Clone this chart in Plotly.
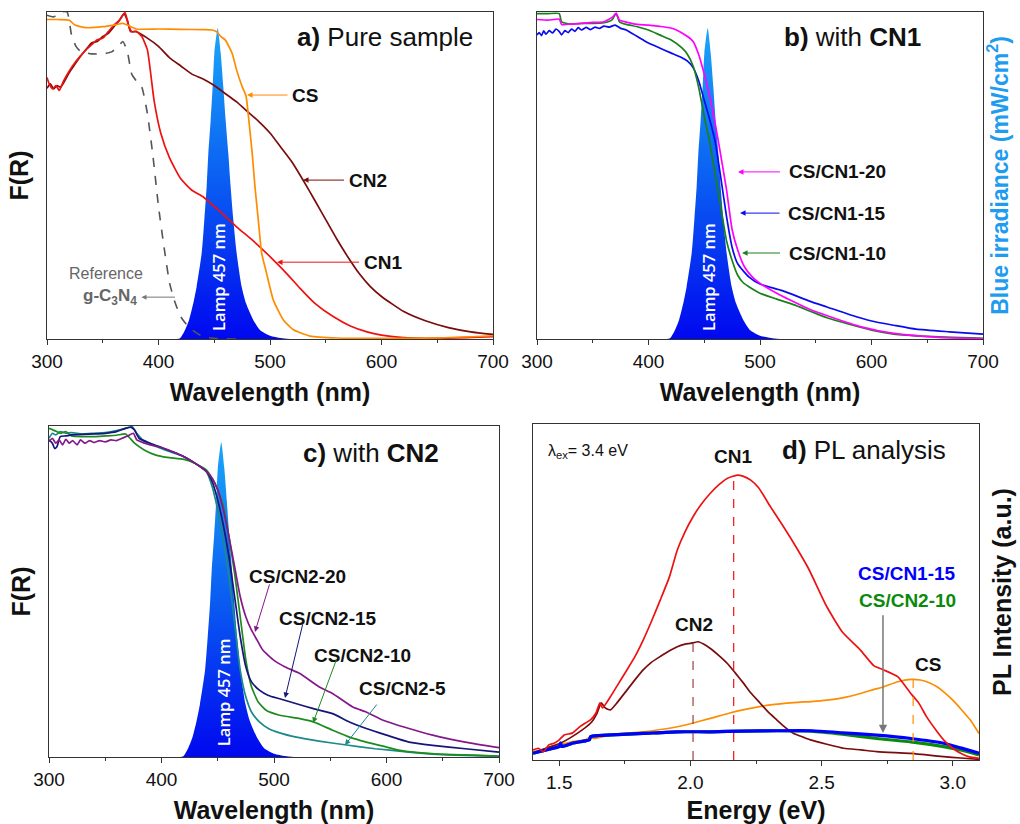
import plotly.graph_objects as go

# ------------------------------------------------------------------ data
lamp_wl = [416, 419.3, 423.8, 427.4, 431.2, 434.2, 438.7, 441.1, 443.2, 444.7, 446.8, 448.6, 450.1, 453.1,
           455.8, 458.1, 460.2, 462.6, 464.7, 467.1, 470.1, 474.6, 478.5, 485.0, 491.0, 500, 510, 518]
lamp_val = [0.0, 0.002, 0.0275, 0.058, 0.109, 0.16, 0.262, 0.364, 0.466, 0.568, 0.67, 0.772, 0.874, 0.95,
            0.874, 0.772, 0.67, 0.568, 0.466, 0.364, 0.262, 0.16, 0.109, 0.058, 0.0275, 0.01, 0.003, 0.0]

# a) pure samples
a_cs_wl = [300, 310, 320, 325, 335, 350, 360, 368, 372, 380, 400, 420, 440, 448, 452, 456, 460, 466, 470, 475,
           478.5, 481, 484, 486.5, 489.5, 492.5, 497, 503, 512, 521, 536, 560, 600, 650, 700]
a_cs = [0.977, 0.977, 0.975, 0.96, 0.952, 0.955, 0.96, 0.965, 0.96, 0.948, 0.948, 0.947, 0.946, 0.945, 0.94, 0.925,
        0.914, 0.874, 0.823, 0.772, 0.743, 0.67, 0.569, 0.466, 0.364, 0.263, 0.2, 0.119, 0.058, 0.028, 0.009,
        0.003, 0.002, 0.003, 0.01]
a_cn2_wl = [300, 303, 306, 309, 312, 316, 320, 325, 330, 335, 340, 345, 350, 355, 360, 365, 369, 372, 375, 380,
            390, 400, 410, 420, 430, 440, 450, 460, 470, 480, 490, 500, 510, 520, 530, 540, 550, 560, 570, 580,
            590, 600, 620, 640, 660, 680, 700]
a_cn2 = [0.767, 0.78, 0.765, 0.775, 0.77, 0.79, 0.815, 0.84, 0.865, 0.885, 0.905, 0.91, 0.925, 0.935, 0.955,
         0.975, 0.995, 0.975, 0.94, 0.94, 0.92, 0.895, 0.86, 0.835, 0.81, 0.795, 0.775, 0.75, 0.725, 0.695,
         0.665, 0.63, 0.585, 0.54, 0.484, 0.425, 0.365, 0.305, 0.25, 0.2, 0.16, 0.13, 0.084, 0.055, 0.035,
         0.022, 0.014]
a_cn1_wl = [300, 302, 305, 308, 311, 315, 320, 325, 330, 335, 340, 345, 350, 355, 360, 365, 370, 373, 376, 380,
            385, 390, 396, 402, 410, 420, 430, 440, 455, 470, 485, 500, 515, 527, 540, 557, 572, 587, 600, 617,
            650, 700]
a_cn1 = [0.80, 0.78, 0.765, 0.775, 0.76, 0.79, 0.82, 0.845, 0.865, 0.885, 0.9, 0.915, 0.92, 0.94, 0.96, 0.975,
         0.998, 0.96, 0.94, 0.941, 0.925, 0.885, 0.73, 0.63, 0.553, 0.49, 0.455, 0.435, 0.39, 0.343, 0.30, 0.252,
         0.20, 0.155, 0.11, 0.068, 0.04, 0.022, 0.012, 0.005, 0.002, 0.007]
a_gcn_wl = [300, 306, 312, 318, 322, 326, 330, 340, 350, 358, 364, 368, 372, 376, 380, 385, 390, 395, 400, 405,
            410, 415, 420, 425, 430, 440, 450, 470]
a_gcn = [0.99, 0.985, 1.0, 1.0, 0.93, 0.895, 0.88, 0.872, 0.872, 0.878, 0.895, 0.91, 0.88, 0.81, 0.79, 0.77,
         0.69, 0.56, 0.405, 0.28, 0.17, 0.11, 0.068, 0.045, 0.028, 0.007, 0.002, 0.0]

# b) with CN1
b_20_wl = [300, 310, 320, 322, 330, 340, 350, 360, 368, 371, 374, 380, 390, 400, 410, 420, 425, 430, 435, 440,
           445, 450, 455, 460, 465, 470, 475, 480, 486, 493, 500, 515, 527, 545, 563, 590, 620, 660, 700]
b_20 = [0.977, 0.975, 0.978, 0.962, 0.963, 0.965, 0.968, 0.97, 0.985, 0.997, 0.975, 0.969, 0.962, 0.96, 0.956,
        0.951, 0.945, 0.936, 0.925, 0.91, 0.87, 0.81, 0.74, 0.655, 0.558, 0.456, 0.334, 0.272, 0.221, 0.19, 0.17,
        0.14, 0.119, 0.09, 0.068, 0.038, 0.017, 0.005, 0.001]
b_15_wl = [300, 302, 304, 306, 308, 311, 314, 317, 320, 322, 325, 328, 331, 334, 337, 340, 344, 348, 352, 356,
           360, 365, 370, 375, 380, 385, 390, 395, 400, 410, 420, 430, 435, 440, 445, 450, 455, 460, 465, 470,
           475, 480, 490, 500, 520, 545, 560, 580, 600, 620, 640, 670, 700]
b_15 = [0.93, 0.937, 0.928, 0.942, 0.932, 0.943, 0.936, 0.948, 0.94, 0.93, 0.943, 0.937, 0.948, 0.941, 0.952, 0.945,
        0.953, 0.946, 0.954, 0.95, 0.957, 0.954, 0.96, 0.95, 0.945, 0.935, 0.925, 0.915, 0.905, 0.89, 0.875, 0.86,
        0.85, 0.83, 0.79, 0.73, 0.67, 0.60, 0.49, 0.374, 0.28, 0.23, 0.19, 0.168, 0.148, 0.115, 0.098, 0.075,
        0.055, 0.042, 0.03, 0.022, 0.015]
b_10_wl = [300, 310, 320, 322, 330, 340, 350, 360, 367, 371, 374, 380, 390, 400, 410, 420, 430, 435, 440, 445,
           450, 455, 460, 465, 470, 475, 480, 485, 490, 500, 515, 530, 545, 560, 580, 600, 620, 650, 700]
b_10 = [0.995, 0.995, 0.995, 0.97, 0.963, 0.965, 0.965, 0.967, 0.975, 0.995, 0.97, 0.962, 0.955, 0.945, 0.93,
        0.915, 0.89, 0.87, 0.835, 0.77, 0.68, 0.60, 0.50, 0.40, 0.30, 0.24, 0.195, 0.172, 0.16, 0.14, 0.122,
        0.105, 0.085, 0.065, 0.045, 0.027, 0.015, 0.008, 0.002]

# c) with CN2
c_20_wl = [300, 303, 306, 309, 312, 315, 318, 321, 325, 328, 332, 336, 340, 345, 350, 355, 360, 365, 370, 375,
           378, 385, 390, 400, 410, 420, 430, 440, 445, 450, 455, 460, 465, 470, 475, 480, 485, 490, 500, 510,
           523, 540, 552, 570, 582, 597, 620, 641, 670, 700]
c_20 = [0.953, 0.963, 0.948, 0.958, 0.943, 0.96, 0.948, 0.956, 0.943, 0.958, 0.948, 0.956, 0.95, 0.956, 0.952,
        0.958, 0.956, 0.963, 0.97, 0.978, 0.958, 0.948, 0.943, 0.935, 0.922, 0.907, 0.887, 0.862, 0.842, 0.807,
        0.746, 0.665, 0.575, 0.484, 0.423, 0.383, 0.353, 0.323, 0.292, 0.272, 0.252, 0.212, 0.192, 0.151, 0.136,
        0.111, 0.086, 0.066, 0.045, 0.028]
c_15_wl = [300, 303, 305, 307, 310, 315, 320, 330, 340, 350, 360, 368, 373, 376, 380, 390, 400, 410, 420, 430,
           440, 445, 450, 455, 460, 465, 470, 475, 480, 487, 495, 505, 520, 535, 552, 567, 582, 600, 620, 641,
           670, 700]
c_15 = [0.958, 0.948, 0.932, 0.937, 0.968, 0.97, 0.973, 0.975, 0.976, 0.978, 0.983, 0.993, 0.996, 0.988, 0.963,
        0.948, 0.935, 0.922, 0.907, 0.887, 0.862, 0.832, 0.776, 0.70, 0.605, 0.484, 0.363, 0.272, 0.227, 0.202,
        0.186, 0.176, 0.161, 0.146, 0.131, 0.106, 0.086, 0.066, 0.045, 0.035, 0.025, 0.015]
c_10_wl = [300, 305, 310, 315, 320, 330, 340, 350, 360, 368, 372, 376, 385, 395, 405, 420, 430, 440, 445, 450,
           455, 460, 465, 470, 475, 480, 486, 493, 505, 523, 535, 552, 567, 582, 600, 612, 640, 700]
c_10 = [0.993, 0.986, 0.978, 0.983, 0.97, 0.968, 0.968, 0.97, 0.972, 0.976, 0.963, 0.948, 0.927, 0.912, 0.905,
        0.899, 0.887, 0.867, 0.842, 0.807, 0.756, 0.665, 0.554, 0.423, 0.292, 0.212, 0.166, 0.141, 0.126, 0.116,
        0.106, 0.081, 0.06, 0.045, 0.03, 0.02, 0.01, 0.003]
c_5_wl = [300, 303, 306, 310, 315, 320, 330, 340, 350, 360, 368, 374, 378, 385, 395, 405, 420, 430, 440, 445,
          450, 455, 460, 465, 470, 475, 480, 487, 495, 505, 520, 540, 563, 590, 620, 650, 700]
c_5 = [0.963, 0.978, 0.973, 0.983, 0.978, 0.98, 0.976, 0.978, 0.98, 0.986, 0.993, 0.998, 0.978, 0.953, 0.938,
       0.925, 0.907, 0.887, 0.862, 0.817, 0.746, 0.655, 0.544, 0.403, 0.262, 0.181, 0.136, 0.106, 0.086, 0.073,
       0.06, 0.048, 0.037, 0.025, 0.015, 0.007, 0.002]

# d) PL
d_cn1_e = [1.40, 1.42, 1.44, 1.46, 1.48, 1.50, 1.52, 1.55, 1.58, 1.60, 1.62, 1.64, 1.655, 1.665, 1.695, 1.72,
           1.758, 1.79, 1.82, 1.85, 1.885, 1.92, 1.95, 1.98, 2.01, 2.04, 2.076, 2.11, 2.14, 2.178, 2.20, 2.23,
           2.26, 2.305, 2.35, 2.394, 2.45, 2.52, 2.58, 2.648, 2.70, 2.737, 2.79, 2.84, 2.87, 2.90, 2.935, 2.965,
           3.00, 3.03, 3.06, 3.10]
d_cn1 = [0.03, 0.035, 0.025, 0.045, 0.05, 0.06, 0.075, 0.08, 0.10, 0.11, 0.12, 0.14, 0.17, 0.155, 0.188, 0.22,
         0.268, 0.31, 0.357, 0.41, 0.476, 0.545, 0.625, 0.68, 0.724, 0.76, 0.794, 0.82, 0.838, 0.848, 0.845,
         0.833, 0.81, 0.754, 0.70, 0.645, 0.57, 0.456, 0.38, 0.327, 0.28, 0.268, 0.248, 0.198, 0.17, 0.129, 0.09,
         0.06, 0.035, 0.02, 0.01, 0.005]
d_cn2_e = [1.40, 1.45, 1.504, 1.57, 1.62, 1.644, 1.66, 1.675, 1.695, 1.72, 1.758, 1.79, 1.82, 1.85, 1.885, 1.92,
           1.95, 1.98, 2.0, 2.03, 2.05, 2.076, 2.11, 2.14, 2.17, 2.203, 2.23, 2.266, 2.30, 2.33, 2.36, 2.394,
           2.43, 2.457, 2.52, 2.584, 2.65, 2.71, 2.78, 2.84, 2.90, 2.965, 3.03, 3.10]
d_cn2 = [0.02, 0.035, 0.05, 0.08, 0.11, 0.139, 0.17, 0.155, 0.149, 0.17, 0.208, 0.24, 0.268, 0.29, 0.308, 0.325,
         0.337, 0.345, 0.347, 0.352, 0.345, 0.332, 0.31, 0.288, 0.26, 0.228, 0.2, 0.169, 0.14, 0.119, 0.098,
         0.079, 0.068, 0.06, 0.047, 0.035, 0.03, 0.025, 0.022, 0.02, 0.015, 0.01, 0.006, 0.002]
d_cs_e = [1.40, 1.45, 1.504, 1.55, 1.60, 1.62, 1.63, 1.70, 1.76, 1.82, 1.88, 1.95, 2.0, 2.076, 2.15, 2.2, 2.305,
          2.394, 2.46, 2.52, 2.58, 2.648, 2.70, 2.737, 2.79, 2.84, 2.876, 2.91, 2.94, 2.97, 3.0, 3.035, 3.067, 3.10]
d_cs = [0.025, 0.035, 0.045, 0.055, 0.06, 0.07, 0.064, 0.075, 0.08, 0.084, 0.09, 0.099, 0.108, 0.124, 0.14,
        0.149, 0.164, 0.171, 0.174, 0.178, 0.185, 0.198, 0.21, 0.218, 0.233, 0.24, 0.238, 0.23, 0.218, 0.2, 0.178,
        0.148, 0.119, 0.079]
d_mix_e = [1.40, 1.45, 1.50, 1.505, 1.51, 1.55, 1.60, 1.615, 1.62, 1.65, 1.70, 1.82, 1.95, 2.08, 2.2, 2.33, 2.46,
           2.58, 2.71, 2.84, 2.965, 3.03, 3.10]
d_cscn1_15 = [0.02, 0.03, 0.04, 0.05, 0.04, 0.05, 0.057, 0.06, 0.07, 0.073, 0.075, 0.079, 0.084, 0.084, 0.086,
              0.087, 0.087, 0.081, 0.074, 0.064, 0.05, 0.036, 0.02]
d_cscn2_10 = [0.02, 0.03, 0.04, 0.05, 0.04, 0.05, 0.057, 0.06, 0.07, 0.073, 0.075, 0.079, 0.084, 0.084, 0.086,
              0.087, 0.086, 0.077, 0.064, 0.054, 0.04, 0.03, 0.015]
d_peak_e = [2.165, 2.01, 2.849]
d_peak_val = [0.848, 0.347, 0.24]

# ------------------------------------------------------------------ styling
W, H = 1020, 824
FONT = "Arial, Liberation Sans, sans-serif"
C_CS, C_CN2, C_CN1, C_REF = "#ff8c00", "#7a0c0c", "#ee1111", "#555555"
C_MAG, C_BLUE, C_GRN = "#ff00ff", "#0a0af0", "#1a801a"
C_PUR, C_NAVY, C_GRN2, C_TEAL = "#84188a", "#15157a", "#1f8a1f", "#1a8a8a"
LAMP_SCALE = [[0, "#0008ef"], [0.5, "#0a5cf2"], [1, "#1aa6f8"]]

fig = go.Figure()


def axes_of(ax):
    return ("x", "y") if ax == 1 else (f"x{ax}", f"y{ax}")


def line(x, y, color, ax, width=1.7, dash=None, smooth=0.5):
    xa, ya = axes_of(ax)
    shape = "spline" if smooth else "linear"
    ln = dict(color=color, width=width, dash=dash, shape=shape)
    if smooth:
        ln["smoothing"] = smooth
    fig.add_trace(go.Scatter(x=x, y=y, mode="lines", xaxis=xa, yaxis=ya, showlegend=False,
                             hoverinfo="skip", line=ln))


def lamp(ax):
    xa, ya = axes_of(ax)
    fig.add_trace(go.Scatter(x=lamp_wl, y=lamp_val, mode="lines", xaxis=xa, yaxis=ya, showlegend=False,
                             fill="tozeroy",
                             line=dict(width=0, color="rgba(0,0,0,0)", shape="spline", smoothing=0.6),
                             fillgradient=dict(type="vertical", colorscale=LAMP_SCALE),
                             hoverinfo="skip"))


# panel a
lamp(1)
line(a_gcn_wl, a_gcn, C_REF, 1, width=1.6, dash="dash")
line(a_cn2_wl, a_cn2, C_CN2, 1)
line(a_cn1_wl, a_cn1, C_CN1, 1)
line(a_cs_wl, a_cs, C_CS, 1)
# panel b
lamp(2)
line(b_15_wl, b_15, C_BLUE, 2)
line(b_10_wl, b_10, C_GRN, 2)
line(b_20_wl, b_20, C_MAG, 2)
# panel c
lamp(3)
line(c_5_wl, c_5, C_TEAL, 3)
line(c_10_wl, c_10, C_GRN2, 3)
line(c_15_wl, c_15, C_NAVY, 3)
line(c_20_wl, c_20, C_PUR, 3)
# panel d
line(d_cs_e, d_cs, C_CS, 4)
line(d_cn2_e, d_cn2, C_CN2, 4)
line(d_mix_e, d_cscn2_10, "#0a8a0a", 4, width=3.2)
line(d_mix_e, d_cscn1_15, "#0000ff", 4, width=3.2)
line(d_cn1_e, d_cn1, C_CN1, 4)
for e, v, c in zip(d_peak_e, d_peak_val, [C_CN1, "#a04040", C_CS]):
    line([e, e], [0, v], c, 4, width=1.2, dash="dash", smooth=0)


def px_x(p):
    return p / W


def px_y(p):
    return 1 - p / H


TITLE_FONT = dict(family=FONT, size=25, color="#111111")


def xtitle(t, standoff=12):
    return dict(text=f"<b>{t}</b>", font=TITLE_FONT, standoff=standoff)


def ytitle(t, standoff=10, color="#111111", size=25):
    return dict(text=f"<b>{t}</b>", font=dict(family=FONT, size=size, color=color), standoff=standoff)


axis_common = dict(showline=True, linecolor="#333333", linewidth=1.3, mirror=True, showgrid=False,
                   zeroline=False, ticks="outside", ticklen=5, tickwidth=1.2, tickcolor="#333333",
                   tickfont=dict(family=FONT, size=19, color="#111111"), automargin=False)
yaxis_common = dict(showline=True, linecolor="#333333", linewidth=1.3, mirror=True, showgrid=False,
                    zeroline=False, showticklabels=False, ticks="", range=[0, 1], fixedrange=True,
                    automargin=False)

wl_axis = dict(axis_common, range=[300, 700], dtick=100, tick0=300,
               minor=dict(dtick=50, ticks="outside", ticklen=3, tickcolor="#333333"))

layout_axes = dict(
    xaxis=dict(wl_axis, domain=[px_x(47), px_x(493)], anchor="y", title=xtitle("Wavelength (nm)")),
    yaxis=dict(yaxis_common, domain=[px_y(339), px_y(12)], anchor="x", title=ytitle("F(R)")),
    xaxis2=dict(wl_axis, domain=[px_x(537), px_x(983)], anchor="y2", title=xtitle("Wavelength (nm)")),
    yaxis2=dict(yaxis_common, domain=[px_y(339), px_y(12)], anchor="x2", side="right",
                title=ytitle("Blue irradiance (mW/cm<sup>2</sup>)", standoff=8, color="#1e9cf0", size=23)),
    xaxis3=dict(wl_axis, domain=[px_x(49), px_x(499)], anchor="y3", title=xtitle("Wavelength (nm)")),
    yaxis3=dict(yaxis_common, domain=[px_y(757), px_y(426)], anchor="x3", title=ytitle("F(R)")),
    xaxis4=dict(axis_common, range=[1.4, 3.1], dtick=0.5, tick0=1.5, tickformat=".1f",
                minor=dict(dtick=0.25, tick0=1.5, ticks="outside", ticklen=3, tickcolor="#333333"),
                domain=[px_x(533), px_x(979)], anchor="y4", title=xtitle("Energy (eV)")),
    yaxis4=dict(yaxis_common, domain=[px_y(760), px_y(424)], anchor="x4", side="right",
                title=ytitle("PL Intensity (a.u.)", standoff=14)),
)

ann = []


def text(x, y, t, ref, size=19, color="#111111", bold=False, xanchor="center", angle=0, family=FONT, weight=None):
    xr, yr = ref
    f = dict(family=family, size=size, color=color)
    if weight is not None:
        f["weight"] = weight
    ann.append(dict(x=x, y=y, xref=xr, yref=yr, text=(f"<b>{t}</b>" if bold else t), showarrow=False,
                    font=f, xanchor=xanchor, yanchor="middle", textangle=angle))


def label_arrow(hx, hy, dx, t, ref, color, size=19, tcolor="#111111", side="end", standoff=3):
    """Label whose arrow runs horizontally from the label to (hx, hy); dx = label centre offset in px."""
    xr, yr = ref
    ann.append(dict(x=hx, y=hy, xref=xr, yref=yr, ax=dx, ay=0, text=f"<b>{t}</b>",
                    font=dict(family=FONT, size=size, color=tcolor),
                    showarrow=True, arrowhead=2, startarrowhead=2, arrowside=side, arrowsize=1.1,
                    arrowwidth=1.0, arrowcolor=color, startstandoff=standoff))


def arrow(x0, y0, x1, y1, ref, color, width=1.0):
    xr, yr = ref
    ann.append(dict(x=x1, y=y1, ax=x0, ay=y0, xref=xr, yref=yr, axref=xr, ayref=yr, text="",
                    showarrow=True, arrowhead=2, arrowsize=1.1, arrowwidth=width, arrowcolor=color))


A, B, C, D = ("x", "y"), ("x2", "y2"), ("x3", "y3"), ("x4", "y4")
LAMP_TXT = dict(size=16.5, color="white", angle=-90, family="Open Sans, Arial, sans-serif", weight=600)

# panel a
text(603, 0.924, "<b>a)</b> Pure sample", A, size=26)
label_arrow(479.4, 0.746, 58, "CS", A, C_CS)
label_arrow(529.6, 0.486, 64.5, "CN2", A, C_CN2)
label_arrow(506.3, 0.235, 105.5, "CN1", A, C_CN1)
text(352.5, 0.199, "Reference", A, size=16, color="#666666")
label_arrow(414.8, 0.128, -65, "g-C<sub>3</sub>N<sub>4</sub>", A, "#777777", size=17, tcolor="#666666",
            side="start", standoff=3)
text(454.3, 0.19, "Lamp 457 nm", A, **LAMP_TXT)

# panel b
text(583.4, 0.924, "<b>b)</b> with <b>CN1</b>", B, size=26)
for hx, y, dx, lab, col in [(480.3, 0.511, 99, "CS/CN1-20", C_MAG), (482.1, 0.385, 97, "CS/CN1-15", C_BLUE),
                            (483.9, 0.263, 95, "CS/CN1-10", C_GRN)]:
    label_arrow(hx, y, dx, lab, B, col, standoff=7)
text(454.3, 0.19, "Lamp 457 nm", B, **LAMP_TXT)

# panel c
text(586.2, 0.918, "<b>c)</b> with <b>CN2</b>", C, size=26)
text(520.9, 0.544, "CS/CN2-20", C, bold=True)
arrow(496.4, 0.526, 483.1, 0.378, C, C_PUR)
text(548, 0.417, "CS/CN2-15", C, bold=True)
arrow(525.8, 0.405, 509.8, 0.178, C, C_NAVY)
text(578.7, 0.308, "CS/CN2-10", C, bold=True)
arrow(556.0, 0.299, 534.7, 0.103, C, C_GRN2)
text(613.8, 0.208, "CS/CN2-5", C, bold=True)
arrow(592.4, 0.163, 563.1, 0.036, C, C_TEAL)
text(454.7, 0.196, "Lamp 457 nm", C, **LAMP_TXT)

# panel d
text(1.45, 0.917, "λ<sub>ex</sub>= 3.4 eV", D, size=16, xanchor="left")
text(2.162, 0.902, "CN1", D, bold=True)
text(2.66, 0.923, "<b>d)</b> PL analysis", D, size=26)
text(2.014, 0.402, "CN2", D, bold=True)
text(2.826, 0.554, "CS/CN1-15", D, bold=True, color="#0000ff")
text(2.826, 0.476, "CS/CN2-10", D, bold=True, color="#0a8a0a")
text(2.906, 0.283, "CS", D, bold=True)
arrow(2.734, 0.435, 2.734, 0.08, D, "#777777", width=1.5)

fig.update_layout(width=W, height=H, autosize=False, margin=dict(l=0, r=0, t=0, b=0),
                  paper_bgcolor="white", plot_bgcolor="white", showlegend=False,
                  annotations=ann, **layout_axes)

fig.write_html("out.html")
